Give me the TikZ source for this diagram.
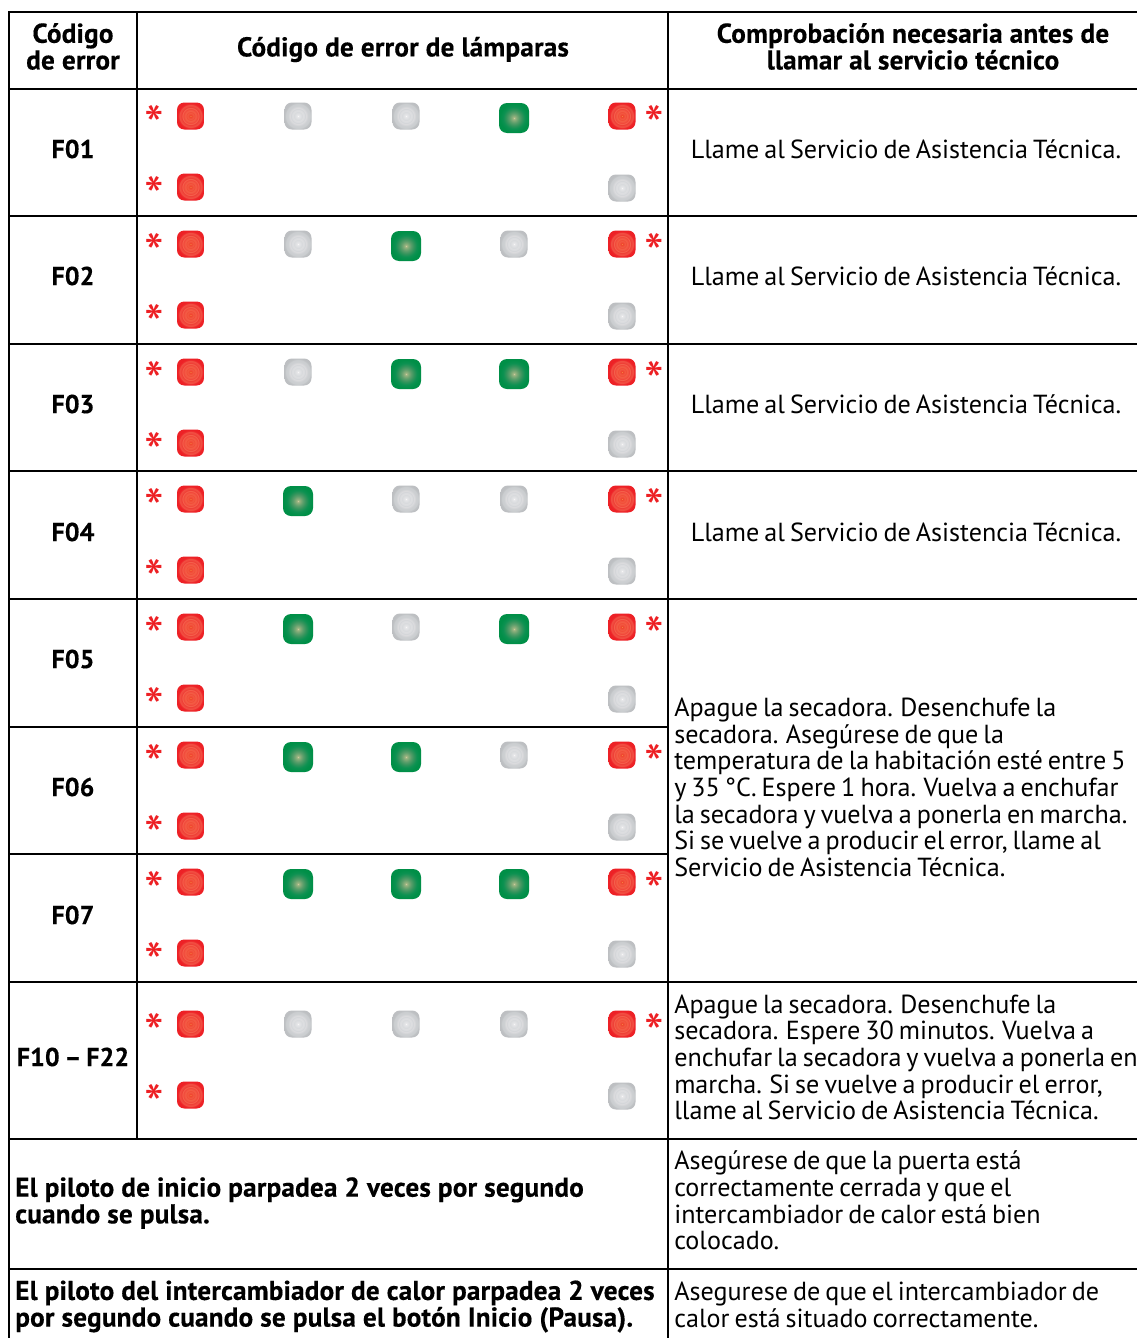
\documentclass[tikz,border=0pt]{standalone}
\usepackage{fontspec}
\setmainfont[WordSpace=0.72,BoldFeatures={WordSpace=1.0,LetterSpace=0.7,FakeBold=0.4}]{PT Sans}
\pgfdeclareradialshading{lampred}{\pgfpoint{0bp}{0bp}}{rgb(0bp)=(0.96,0.50,0.25);rgb(1.5bp)=(0.94,0.27,0.18);rgb(6bp)=(0.95,0.35,0.26);rgb(8bp)=(0.94,0.29,0.21);rgb(10bp)=(0.96,0.40,0.30);rgb(12.5bp)=(0.94,0.26,0.21);rgb(15bp)=(0.96,0.38,0.30);rgb(17bp)=(0.93,0.23,0.20);rgb(20bp)=(0.95,0.34,0.28);rgb(23bp)=(0.93,0.13,0.15);rgb(50bp)=(0.93,0.13,0.15)}
\pgfdeclareradialshading{lampgray}{\pgfpoint{0bp}{0bp}}{rgb(0bp)=(0.97,0.97,0.97);rgb(2bp)=(0.90,0.90,0.91);rgb(8bp)=(0.84,0.85,0.86);rgb(10bp)=(0.88,0.88,0.89);rgb(13bp)=(0.83,0.84,0.85);rgb(15bp)=(0.86,0.86,0.87);rgb(19bp)=(0.80,0.81,0.82);rgb(22bp)=(0.80,0.81,0.82);rgb(25bp)=(0.74,0.75,0.76);rgb(50bp)=(0.74,0.75,0.76)}
\pgfdeclareradialshading{lampgreen}{\pgfpoint{0bp}{0bp}}{rgb(0bp)=(0.80,0.80,0.62);rgb(2bp)=(0.60,0.70,0.50);rgb(8bp)=(0.36,0.62,0.42);rgb(13bp)=(0.20,0.58,0.36);rgb(18bp)=(0.05,0.57,0.32);rgb(24bp)=(0.0,0.56,0.28);rgb(50bp)=(0.0,0.56,0.28)}
\definecolor{starred}{HTML}{ED2024}
\tikzset{
  x=0.75pt,y=-0.75pt,
  grid/.style={line width=1.65pt,black,line cap=rect},
  txt/.style={inner sep=0pt,font=\fontsize{19.6pt}{20pt}\selectfont},
  leftt/.style={txt,anchor=west,align=left},
  centt/.style={txt,align=center},
  boldt/.style={font=\fontsize{20.4pt}{20pt}\selectfont\bfseries},
  codet/.style={font=\fontsize{19.4pt}{20pt}\selectfont\bfseries},
  star/.style={inner sep=0pt,text=starred,font=\fontsize{42pt}{42pt}\selectfont},
  lampbase/.style={inner sep=0pt,minimum width=20.25pt,minimum height=20.25pt,rounded corners=5.5pt},
  lampr/.style={lampbase,shading=lampred},
  lampg/.style={lampbase,shading=lampgray},
  lampv/.style={lampbase,minimum width=22.5pt,minimum height=22.5pt,rounded corners=6pt,shading=lampgreen},
}
\newcommand{\lampat}[5]{% name, state, x, y
  \ifnum#2=1
    \node[lampv] (#1) at (#3,#4+2) {};
  \else
    \node[lampg] (#1) at (#3,#4) {};
  \fi}
\newcommand{\errrow}[5]{% id, label y, top y, bot y, states (columns 2-4)
  \node[lampr] (#1r1) at (190.5,#3) {};
  \node[lampr] (#1r5) at (622,#3) {};
  \node[lampr] (#1b1) at (190.5,#4) {};
  \node[lampg] (#1b5) at (622,#4+1) {};
  \node[star] (#1s1) at (154.5,#3+9) {\raisebox{-4pt}{*}};
  \node[star] (#1s2) at (654.5,#3+9) {\raisebox{-4pt}{*}};
  \node[star] (#1s3) at (154.5,#4+9) {\raisebox{-4pt}{*}};
  \foreach \c/\xx/\st in {#5} {\lampat{#1c\c}{\st}{\xx}{#3}{}}
}
\begin{document}
\begin{tikzpicture}
\useasboundingbox (0,0) rectangle (1137,1338);
\fill[white] (0,0) rectangle (1137,1338);
% grid
\foreach \yy in {12,89,216,344,471,599,982,1139,1269} \draw[grid] (9,\yy) -- (1137,\yy);
\foreach \yy in {727,854} \draw[grid] (9,\yy) -- (668,\yy);
\draw[grid] (9,12) -- (9,1338);
\draw[grid] (137,12) -- (137,1139);
\draw[grid] (668,12) -- (668,1338);
% header
\node[centt,boldt] (h1) at (73,46.5) {Código\\de error};
\node[centt,boldt] (h2) at (403,49.5) {Código de error de lámparas};
\node[centt,boldt] (h3) at (913,46.5) {Comprobación necesaria antes de\\llamar al servicio técnico};
% codes
\node[centt,codet] (f01) at (73,149) {F01};
\node[centt,codet] (f02) at (73,276) {F02};
\node[centt,codet] (f03) at (73,404) {F03};
\node[centt,codet] (f04) at (73,532) {F04};
\node[centt,codet] (f05) at (73,659) {F05};
\node[centt,codet] (f06) at (73,787) {F06};
\node[centt,codet] (f07) at (73,915) {F07};
\node[centt,codet] (f10) at (73,1057) {\spaceskip=3.6pt\relax F10 – F22};
% lamps
\errrow{a}{149}{116}{187}{2/298/0,3/406/0,4/514/1}
\errrow{b}{276}{244}{315}{2/298/0,3/406/1,4/514/0}
\errrow{c}{404}{372}{443}{2/298/0,3/406/1,4/514/1}
\errrow{d}{532}{499}{570}{2/298/1,3/406/0,4/514/0}
\errrow{e}{659}{627}{698}{2/298/1,3/406/0,4/514/1}
\errrow{f}{787}{755}{826}{2/298/1,3/406/1,4/514/0}
\errrow{g}{915}{882}{953}{2/298/1,3/406/1,4/514/1}
\errrow{k}{1057}{1024}{1095}{2/298/0,3/406/0,4/514/0}
% right texts
\node[centt] (t1) at (906,149.5) {Llame al Servicio de Asistencia Técnica.};
\node[centt] (t2) at (906,276.5) {Llame al Servicio de Asistencia Técnica.};
\node[centt] (t3) at (906,404.5) {Llame al Servicio de Asistencia Técnica.};
\node[centt] (t4) at (906,532.5) {Llame al Servicio de Asistencia Técnica.};
\node[leftt] (t5) at (674,787.5) {Apague la secadora. Desenchufe la\\secadora. Asegúrese de que la\\temperatura de la habitación esté entre 5\\y 35 °C. Espere 1 hora. Vuelva a enchufar\\la secadora y vuelva a ponerla en marcha.\\Si se vuelve a producir el error, llame al\\Servicio de Asistencia Técnica.};
\node[leftt] (t6) at (674,1057.5) {Apague la secadora. Desenchufe la\\secadora. Espere 30 minutos. Vuelva a\\enchufar la secadora y vuelva a ponerla en\\marcha. Si se vuelve a producir el error,\\llame al Servicio de Asistencia Técnica.};
\node[leftt] (t7) at (674,1200.5) {Asegúrese de que la puerta está\\correctamente cerrada y que el\\intercambiador de calor está bien\\colocado.};
\node[leftt] (t8) at (674,1305) {Asegurese de que el intercambiador de\\calor está situado correctamente.};
\node[leftt,boldt] (l7) at (15,1203) {El piloto de inicio parpadea 2 veces por segundo\\cuando se pulsa.};
\node[leftt,boldt] (l8) at (15,1306.5) {El piloto del intercambiador de calor parpadea 2 veces\\por segundo cuando se pulsa el botón Inicio (Pausa).};
\end{tikzpicture}
\end{document}
